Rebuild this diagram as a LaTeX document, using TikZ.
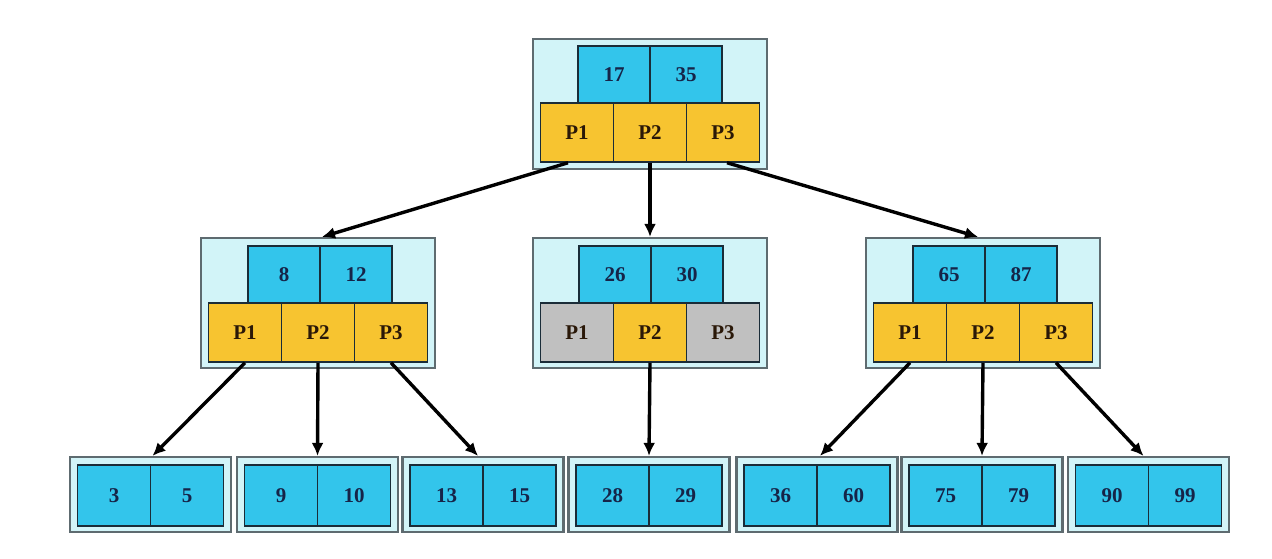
\documentclass[tikz,border=0pt]{standalone}
\usepackage{fontspec}
\setmainfont{Liberation Serif}
\usetikzlibrary{arrows.meta,positioning}
\definecolor{keyblue}{HTML}{33C5EB}
\definecolor{ptryel}{HTML}{F7C430}
\definecolor{ptrgray}{HTML}{C0C0C0}
\definecolor{boxbg}{HTML}{D2F4F8}
\definecolor{boxline}{HTML}{5E6B70}
\definecolor{cellline}{HTML}{1A2C38}
\definecolor{keytxt}{HTML}{162448}
\definecolor{ptrtxt}{HTML}{2A1808}
\tikzset{
  outerbox/.style={draw=boxline, fill=boxbg, line width=2.2pt, minimum width=234pt, minimum height=130pt, inner sep=0pt},
  leafbox/.style={draw=boxline, fill=boxbg, line width=2.2pt, minimum width=161pt, minimum height=75pt, inner sep=0pt},
  keycell/.style={draw=cellline, fill=keyblue, line width=1.5pt, minimum width=72pt, minimum height=57pt, inner sep=0pt, text=keytxt, font=\fontsize{21}{21}\selectfont\bfseries},
  leafcell/.style={draw=cellline, fill=keyblue, line width=1.5pt, minimum width=73pt, minimum height=61pt, inner sep=0pt, text=keytxt, font=\fontsize{21}{21}\selectfont\bfseries},
  ptrcell/.style={draw=cellline, fill=ptryel, line width=1.5pt, minimum width=73pt, minimum height=59pt, inner sep=0pt, text=ptrtxt, font=\fontsize{21}{21}\selectfont\bfseries},
  deadcell/.style={ptrcell, fill=ptrgray},
  link/.style={draw=black, line width=3.4pt, -{Latex[length=13pt,width=12pt]}}
}
\begin{document}
\begin{tikzpicture}[x=1pt,y=-1pt]
\useasboundingbox (0,0) rectangle (1272,558);
% ---------- root ----------
\node[outerbox] (r) at (650,104) {};
\node[keycell] (rk1) at (614,74.5) {17};
\node[keycell] (rk2) at (686,74.5) {35};
\node[ptrcell] (rp1) at (577,132.5) {P1};
\node[ptrcell] (rp2) at (650,132.5) {P2};
\node[ptrcell] (rp3) at (723,132.5) {P3};
% ---------- left internal ----------
\node[outerbox] (l) at (318,303) {};
\node[keycell] (lk1) at (284,274.5) {8};
\node[keycell] (lk2) at (356,274.5) {12};
\node[ptrcell] (lp1) at (245,332.5) {P1};
\node[ptrcell] (lp2) at (318,332.5) {P2};
\node[ptrcell] (lp3) at (391,332.5) {P3};
% ---------- middle internal ----------
\node[outerbox] (m) at (650,303) {};
\node[keycell] (mk1) at (615,274.5) {26};
\node[keycell] (mk2) at (687,274.5) {30};
\node[deadcell] (mp1) at (577,332.5) {P1};
\node[ptrcell] (mp2) at (650,332.5) {P2};
\node[deadcell] (mp3) at (723,332.5) {P3};
% ---------- right internal ----------
\node[outerbox] (q) at (983,303) {};
\node[keycell] (qk1) at (949,274.5) {65};
\node[keycell] (qk2) at (1021,274.5) {87};
\node[ptrcell] (qp1) at (910,332.5) {P1};
\node[ptrcell] (qp2) at (983,332.5) {P2};
\node[ptrcell] (qp3) at (1056,332.5) {P3};
% ---------- leaves ----------
\node[leafbox] (a) at (150.5,494.5) {};
\node[leafcell] (a1) at (114,495.5) {3};
\node[leafcell] (a2) at (187,495.5) {5};
\node[leafbox] (b) at (317.5,494.5) {};
\node[leafcell] (b1) at (281,495.5) {9};
\node[leafcell] (b2) at (354,495.5) {10};
\node[leafbox] (c) at (483,494.5) {};
\node[leafcell] (c1) at (446.5,495.5) {13};
\node[leafcell] (c2) at (519.5,495.5) {15};
\node[leafbox] (d) at (649,494.5) {};
\node[leafcell] (d1) at (612.5,495.5) {28};
\node[leafcell] (d2) at (685.5,495.5) {29};
\node[leafbox] (e) at (817,494.5) {};
\node[leafcell] (e1) at (780.5,495.5) {36};
\node[leafcell] (e2) at (853.5,495.5) {60};
\node[leafbox] (f) at (982,494.5) {};
\node[leafcell] (f1) at (945.5,495.5) {75};
\node[leafcell] (f2) at (1018.5,495.5) {79};
\node[leafbox] (g) at (1148.5,494.5) {};
\node[leafcell] (g1) at (1112,495.5) {90};
\node[leafcell] (g2) at (1185,495.5) {99};
% ---------- links ----------
\draw[link] ([xshift=-9pt]rp1.south) -- ([xshift=4pt]l.north);
\draw[link] (rp2.south) -- (m.north);
\draw[link] ([xshift=4pt]rp3.south) -- ([xshift=-5pt]q.north);
\draw[link] (lp1.south) -- ([xshift=2pt]a.north);
\draw[link] (lp2.south) -- (b.north);
\draw[link] (lp3.south) -- ([xshift=-5pt]c.north);
\draw[link] (mp2.south) -- (d.north);
\draw[link] (qp1.south) -- ([xshift=3pt]e.north);
\draw[link] (qp2.south) -- (f.north);
\draw[link] (qp3.south) -- ([xshift=-5pt]g.north);
\end{tikzpicture}
\end{document}
